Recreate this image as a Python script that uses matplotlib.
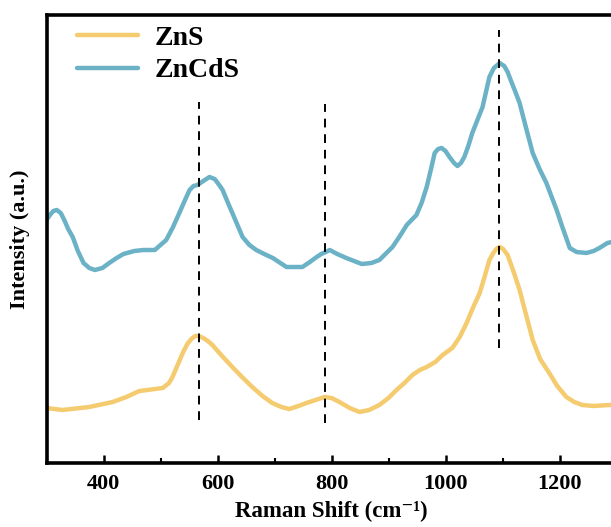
import matplotlib
matplotlib.use("Agg")
import matplotlib.pyplot as plt
from matplotlib.ticker import MultipleLocator, NullLocator

# ZnCdS (upper, blue) curve
x_zncds = [300, 306, 312, 318, 325, 332, 338, 346, 355, 365, 375, 385, 398, 410, 423,
           435, 454, 470, 490, 510, 522, 533, 543, 551, 558, 565, 575, 586, 595, 603,
           609, 617, 626, 635, 644, 656, 668, 682, 697, 721, 749, 762, 774, 782, 790,
           797, 810, 826, 853, 870, 884, 907, 920, 932, 949, 958, 967, 975, 981, 987,
           993, 1000, 1007, 1015, 1021, 1027, 1033, 1040, 1047, 1056, 1065, 1077,
           1085, 1095, 1103, 1109, 1115, 1122, 1130, 1140, 1153, 1165, 1177, 1185,
           1195, 1205, 1218, 1230, 1247, 1260, 1270, 1284, 1300]
y_zncds = [243, 248, 252, 253, 250, 242, 234, 226, 212, 200, 195, 193, 195, 200, 205,
           209, 212, 213, 213, 223, 236, 250, 263, 273, 277, 278, 282, 286, 284, 278,
           273, 262, 250, 238, 226, 218, 213, 209, 205, 196, 196, 201, 206, 209, 211,
           213, 209, 205, 199, 200, 203, 216, 227, 238, 248, 260, 276, 295, 310, 314,
           315, 312, 306, 300, 297, 300, 306, 317, 330, 343, 356, 386,
           395, 400, 397, 391, 382, 372, 360, 338, 310, 294, 280, 268,
           253, 236, 215, 211, 210, 212, 215, 220, 222]

# ZnS (lower, yellow) curve
x_zns = [300, 328, 375, 416, 440, 463, 504, 515, 521, 530, 539, 547, 554, 561, 567,
         575, 583, 591, 608, 626, 643, 661, 679, 696, 712, 726, 742, 756, 772, 788,
         800, 814, 832, 849, 866, 884, 900, 914, 928, 942, 955, 967, 982, 995, 1012,
         1025, 1037, 1048, 1060, 1069, 1077, 1084, 1089, 1095, 1101, 1109, 1119,
         1130, 1141, 1153, 1166, 1182, 1196, 1212, 1226, 1240, 1260, 1288, 1300]
y_zns = [55, 53, 56, 61, 66, 72, 75, 80, 86, 98, 110, 119, 124, 127, 127,
         125, 122, 118, 107, 96, 86, 76, 67, 60, 56, 54, 57, 60, 63, 66,
         65, 61, 55, 51, 53, 58, 65, 73, 80, 88, 93, 96, 101, 108, 115,
         126, 140, 155, 170, 187, 203, 210, 214, 216, 214, 208, 192,
         173, 149, 123, 104, 90, 77, 66, 61, 58, 57, 58, 58]

# dashed marker lines: position, bottom, top
peak_pos = [567, 788, 1093]
peak_low = [43, 40, 115]
peak_high = [361, 359, 433]

plt.rcParams['font.family'] = ['Liberation Serif', 'DejaVu Serif']
plt.rcParams['font.weight'] = 'bold'

fig = plt.figure(figsize=(6.11, 5.27), dpi=100)
ax = fig.add_axes([46.5 / 611, 64 / 527, 570 / 611, 448 / 527])

ax.plot(x_zns, y_zns, color='#F5CB70', lw=3.2, label='ZnS', solid_capstyle='round',
        solid_joinstyle='round')
ax.plot(x_zncds, y_zncds, color='#6CB2C7', lw=3.2, label='ZnCdS', solid_capstyle='round',
        solid_joinstyle='round')
ax.vlines(peak_pos, peak_low, peak_high, colors='black', lw=1.4,
          linestyles=(0, (4.5, 3.5)))

ax.set_xlim(300, 1300)
ax.set_ylim(0, 448)
ax.xaxis.set_major_locator(MultipleLocator(200))
ax.xaxis.set_minor_locator(MultipleLocator(100))
ax.yaxis.set_major_locator(NullLocator())
ax.tick_params(axis='x', which='major', direction='in', length=6, width=1.8,
               labelsize=16, pad=8)
ax.tick_params(axis='x', which='minor', direction='in', length=3.5, width=1.5)
for s in ax.spines.values():
    s.set_linewidth(2.6)

ax.set_xlabel('Raman Shift (cm\u207b\u00b9)', fontsize=16.5, fontweight='bold', labelpad=5)
ax.set_ylabel('Intensity (a.u.)', fontsize=16, fontweight='bold', labelpad=12)

leg = ax.legend(loc='upper left', frameon=False, fontsize=20, handlelength=2.2,
                handletextpad=0.6, borderaxespad=0.3, labelspacing=0.25,
                bbox_to_anchor=(0.02, 1.02))

fig.savefig('out.png', dpi=100)
